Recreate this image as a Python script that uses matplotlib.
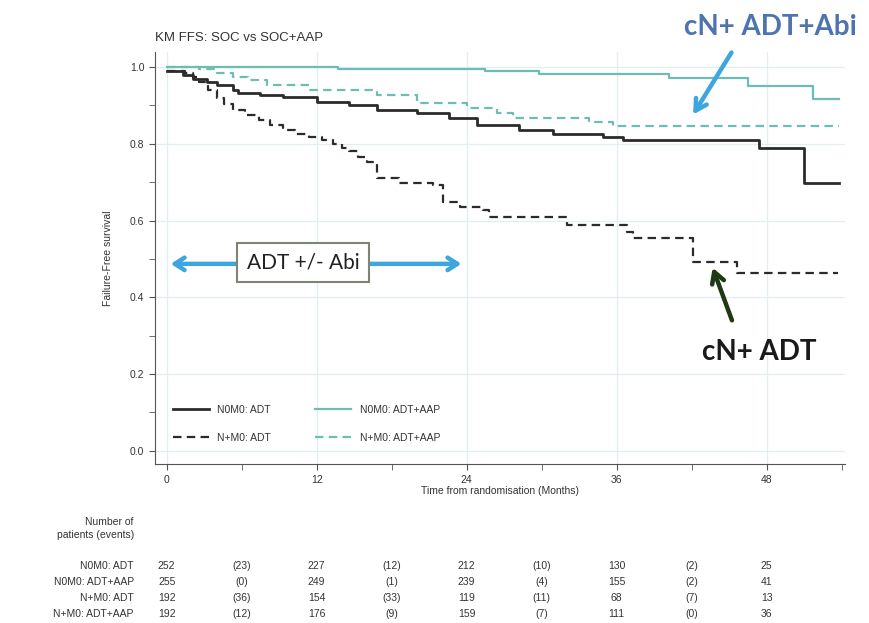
import numpy as np
import matplotlib
matplotlib.use('Agg')
import matplotlib.pyplot as plt
from matplotlib.transforms import blended_transform_factory

plt.rcParams['font.family'] = ['Liberation Sans', 'DejaVu Sans']

# KM step curves (months, failure-free survival)
n0_adt_t = [0, 1.3, 2.1, 3.2, 4.0, 5.3, 5.7, 7.5, 9.3, 12.0, 14.6, 16.8, 20.0, 22.6, 24.8,
            28.2, 30.9, 34.9, 36.5, 47.4, 51.0, 53.8]
n0_adt_s = [0.99, 0.979, 0.969, 0.96, 0.953, 0.94, 0.932, 0.927, 0.921, 0.91, 0.90, 0.888, 0.88, 0.867, 0.849,
            0.836, 0.826, 0.818, 0.81, 0.788, 0.698, 0.698]

n0_aap_t = [0, 13.7, 25.5, 29.8, 40.2, 46.5, 51.7, 53.8]
n0_aap_s = [1.0, 0.996, 0.99, 0.982, 0.972, 0.951, 0.918, 0.918]

np_adt_t = [0, 1.5, 2.1, 2.6, 3.3, 4.0, 4.6, 5.3, 6.3, 7.4, 8.3, 9.3, 10.3, 11.4, 12.4, 13.3, 14.0, 14.6,
            15.3, 16.0, 16.8, 18.6, 21.3, 22.1, 23.5, 25.3, 25.8, 31.4, 32.0, 35.4, 36.8, 37.3,
            41.4, 42.1, 45.6, 53.7]
np_adt_s = [0.99, 0.985, 0.975, 0.96, 0.94, 0.92, 0.905, 0.888, 0.875, 0.862, 0.85, 0.836, 0.826, 0.818, 0.81, 0.80, 0.79, 0.78,
            0.765, 0.752, 0.71, 0.698, 0.693, 0.649, 0.635, 0.627, 0.61, 0.61, 0.588, 0.588, 0.571, 0.555,
            0.555, 0.493, 0.463, 0.463]

np_aap_t = [0, 2.6, 4.0, 5.3, 6.5, 8.0, 11.4, 16.8, 20.0, 24.0, 26.4, 27.7, 33.8, 35.7, 53.8]
np_aap_s = [1.0, 0.995, 0.985, 0.975, 0.965, 0.953, 0.94, 0.927, 0.906, 0.893, 0.88, 0.867, 0.857, 0.847, 0.847]

# number at risk table
risk_months = [0, 6, 12, 18, 24, 30, 36, 42, 48]
risk_rows = ['N0M0: ADT', 'N0M0: ADT+AAP', 'N+M0: ADT', 'N+M0: ADT+AAP']
risk_vals = [
    ['252', '(23)', '227', '(12)', '212', '(10)', '130', '(2)', '25'],
    ['255', '(0)', '249', '(1)', '239', '(4)', '155', '(2)', '41'],
    ['192', '(36)', '154', '(33)', '119', '(11)', '68', '(7)', '13'],
    ['192', '(12)', '176', '(9)', '159', '(7)', '111', '(0)', '36'],
]

black = '#2b2b2b'
teal = '#6cbdb5'
blue = '#3ea6df'

fig = plt.figure(figsize=(8.69, 6.23), dpi=100)
ax = fig.add_axes([0.178, 0.255, 0.794, 0.662])

dash = (0, (3.8, 2.4))
ax.step(n0_adt_t, n0_adt_s, where='post', color=black, lw=2.0, label='N0M0: ADT')
ax.step(np_adt_t, np_adt_s, where='post', color=black, lw=1.6, ls=dash, label='N+M0: ADT')
ax.step(n0_aap_t, n0_aap_s, where='post', color=teal, lw=1.6, label='N0M0: ADT+AAP')
ax.step(np_aap_t, np_aap_s, where='post', color=teal, lw=1.6, ls=dash, label='N+M0: ADT+AAP')

ax.set_xlim(-0.96, 54.24)
ax.set_ylim(-0.035, 1.04)
ax.set_xticks([0, 12, 24, 36, 48])
ax.set_xticks([6, 18, 30, 42, 54], minor=True)
ax.set_yticks([0, 0.2, 0.4, 0.6, 0.8, 1.0])
ax.set_yticks([0.1, 0.3, 0.5, 0.7, 0.9], minor=True)
ax.set_yticklabels(['0.0', '0.2', '0.4', '0.6', '0.8', '1.0'])
ax.grid(True, which='major', color='#e3eef1', lw=0.9)
ax.set_axisbelow(True)
for s in ['top', 'right']:
    ax.spines[s].set_visible(False)
for s in ['left', 'bottom']:
    ax.spines[s].set_color('#555555')
ax.tick_params(which='both', length=4, color='#555555', labelsize=7.5, labelcolor='#333333')
ax.set_xlabel('Time from randomisation (Months)', fontsize=7.5, color='#333333', labelpad=1)
ax.set_ylabel('Failure-Free survival', fontsize=7.5, color='#333333', labelpad=12)
ax.set_title('KM FFS: SOC vs SOC+AAP', loc='left', fontsize=9.5, color='#333333', pad=8)

ax.legend(loc='lower left', bbox_to_anchor=(0.02, 0.042), ncol=2, frameon=False, fontsize=7.5,
          handlelength=3.5, columnspacing=4.2, labelspacing=1.7, borderaxespad=0, labelcolor='#333333')

# ADT +/- Abi arrow and box
ax.annotate('', xy=(0.1, 0.487), xytext=(23.8, 0.487),
            arrowprops=dict(arrowstyle='<->, head_length=0.7, head_width=0.45', color=blue, lw=3.2))
ax.text(10.9, 0.49, 'ADT +/- Abi', ha='center', va='center', fontsize=15, family='Lato', color='#222222',
        zorder=5, bbox=dict(boxstyle='square,pad=0.45', fc='white', ec='#7d8672', lw=1.5))

# callouts
ax.annotate('', xy=(42.0, 0.87), xytext=(45.3, 1.044), annotation_clip=False,
            arrowprops=dict(arrowstyle='->, head_length=0.8, head_width=0.45', color=blue, lw=3.2))
fig.text(0.886, 0.957, 'cN+ ADT+Abi', ha='center', va='center', fontsize=20, family='Lato',
         weight='bold', color='#4d74ad')
ax.annotate('', xy=(43.6, 0.484), xytext=(45.3, 0.333),
            arrowprops=dict(arrowstyle='->, head_length=0.8, head_width=0.45', color='#1f3a12', lw=3.2))
ax.text(47.4, 0.258, 'cN+ ADT', ha='center', va='center', fontsize=20, family='Lato',
        weight='bold', color='#1a1a1a')

# number at risk
tr = blended_transform_factory(ax.transData, fig.transFigure)
fig.text(0.154, 0.152, 'Number of\npatients (events)', ha='right', va='center', fontsize=7.5,
         color='#333333', linespacing=1.3)
row_y = [0.0915, 0.066, 0.040, 0.0145]
for label, vals, y in zip(risk_rows, risk_vals, row_y):
    fig.text(0.154, y, label, ha='right', va='center', fontsize=7.5, color='#333333')
    for m, v in zip(risk_months, vals):
        ax.text(m, y, v, transform=tr, ha='center', va='center', fontsize=7.5, color='#333333')

fig.savefig('out.png', dpi=100)
